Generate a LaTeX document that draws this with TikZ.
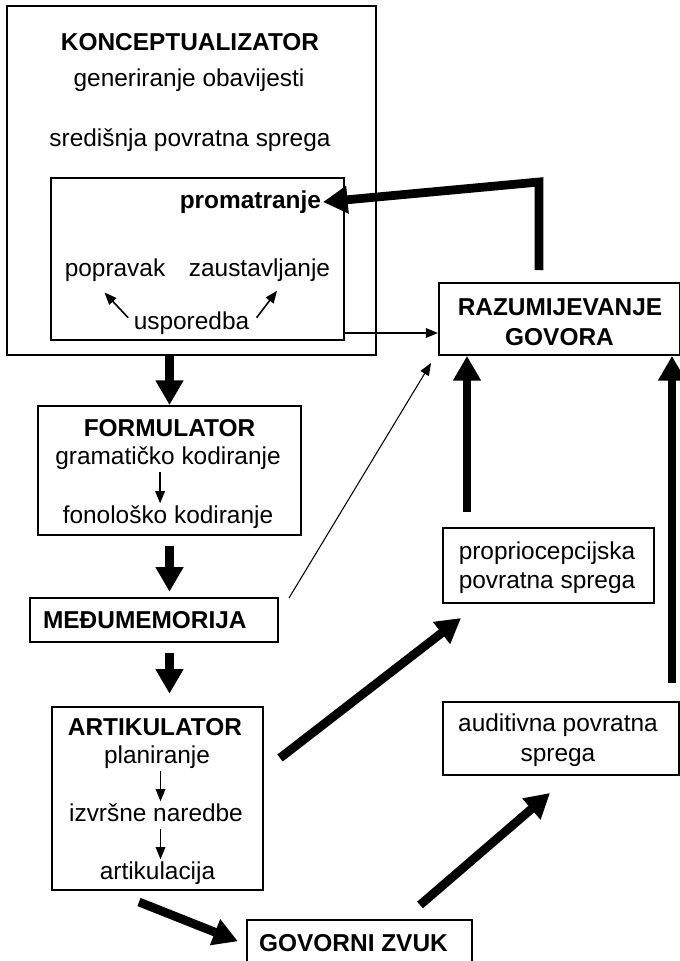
\documentclass[tikz,border=0pt]{standalone}
\usepackage{fontspec}
\setmainfont{Liberation Sans}
\usetikzlibrary{arrows.meta}

\begin{document}
\begin{tikzpicture}[x=0.02cm,y=-0.02cm,
  box/.style={draw,line width=1.1pt,inner sep=0pt},
  txt/.style={inner sep=1pt,text height=10.4pt,text depth=2.8pt,font=\fontsize{13.9}{16}\selectfont},
  hd/.style={txt,font=\fontsize{13.9}{16}\selectfont\bfseries},
  bigarrow/.style={line width=5pt,-{Triangle[length=14pt,width=15pt]}},
  smallarrow/.style={line width=0.9pt,-{Triangle[length=7pt,width=5.5pt]}}]
\useasboundingbox (0,0) rectangle (680,961);

% boxes
\node[box,minimum width=7.38cm,minimum height=6.98cm] (konc) at (191.5,180.5) {};
\node[box,minimum width=5.86cm,minimum height=3.24cm] (prom) at (197.5,259) {};
\node[box,minimum width=4.82cm,minimum height=1.44cm] (razum) at (559.5,319) {};
\node[box,minimum width=5.26cm,minimum height=2.58cm] (form) at (169.5,470.5) {};
\node[box,minimum width=4.96cm,minimum height=0.88cm] (medj) at (154,620) {};
\node[box,minimum width=4.22cm,minimum height=1.5cm] (prop) at (548.5,565.5) {};
\node[box,minimum width=4.22cm,minimum height=3.66cm] (artik) at (157.5,798.5) {};
\node[box,minimum width=4.72cm,minimum height=1.46cm] (audit) at (561,738.5) {};
\node[box,minimum width=4.5cm,minimum height=0.98cm] (govor) at (359.5,944.5) {};

% texts
\node[hd] (konct) at (190,44) {KONCEPTUALIZATOR};
\node[txt] (gen) at (189,80) {generiranje obavijesti};
\node[txt] (sred) at (190,140) {središnja povratna sprega};
\node[hd,anchor=east] (promt) at (323,202) {promatranje};
\node[txt] (pop) at (115,270) {popravak};
\node[txt] (zaus) at (259.5,270) {zaustavljanje};
\node[txt] (usp) at (191.5,323) {usporedba};
\node[hd] (raz1) at (560,309) {RAZUMIJEVANJE};
\node[hd] (raz2) at (559.5,339) {GOVORA};
\node[hd] (formt) at (169.5,430) {FORMULATOR};
\node[txt] (gram) at (168,458) {gramatičko kodiranje};
\node[txt] (fono) at (168,517) {fonološko kodiranje};
\node[hd,anchor=west] (medjt) at (41,622) {MEĐUMEMORIJA};
\node[txt] (prop1) at (547,553) {propriocepcijska};
\node[txt] (prop2) at (547,582) {povratna sprega};
\node[hd] (artikt) at (155,729) {ARTIKULATOR};
\node[txt] (plan) at (157,757) {planiranje};
\node[txt] (izvr) at (156,815) {izvršne naredbe};
\node[txt] (artc) at (157.5,873) {artikulacija};
\node[txt] (aud1) at (558,725) {auditivna povratna};
\node[txt] (aud2) at (558,755) {sprega};
\node[hd] (govt) at (353.5,945) {GOVORNI ZVUK};

% free ends
\coordinate (fbcorner) at (539,182);
\coordinate (fbstart) at (539,270);
\coordinate (uspout) at (344,333);
\coordinate (medjout) at (289,598);
\coordinate (razin) at (431,363);
\coordinate (propup) at (467,512);
\coordinate (audup) at (672,683);
\coordinate (artout) at (280,758);
\coordinate (propin) at (461,618);
\coordinate (artdown) at (139,902);
\coordinate (govout) at (420,905);
\coordinate (audin) at (550,793);

% thin arrows
\draw[smallarrow] ([xshift=-2pt,yshift=3pt]usp.west) -- ([xshift=-6pt,yshift=-5pt]pop.south);
\draw[smallarrow] ([xshift=3pt,yshift=3pt]usp.east) -- ([xshift=10pt,yshift=-4pt]zaus.south);
\draw[smallarrow] ([xshift=-4.5pt]gram.south) -- ([xshift=-4.5pt]fono.north);
\draw[smallarrow] ([xshift=2pt]plan.south) -- ([xshift=2pt]plan.south |- izvr.north);
\draw[smallarrow] ([xshift=2pt]plan.south |- izvr.south) -- ([xshift=2pt]plan.south |- artc.north);
\draw[smallarrow] (uspout) -- (uspout -| razum.west);
\draw[smallarrow,line width=0.6pt] (medjout) -- (razin);

% thick arrows
\draw[bigarrow] (fbstart) -- (fbcorner) -- (promt.east);
\draw[bigarrow] (konc.south -| form.north) -- (form.north);
\draw[bigarrow,shorten <=5.7pt,shorten >=3pt] (form.south) -- (form.south |- medj.north);
\draw[bigarrow,shorten <=5.7pt,shorten >=7pt] (form.south |- medj.south) -- (form.south |- artik.north);
\draw[bigarrow] (propup) -- (propup |- razum.south);
\draw[bigarrow] (audup) -- (audup |- razum.south);
\draw[bigarrow] (artout) -- (propin);
\draw[bigarrow,shorten >=5pt] (artdown) -- (govor.west);
\draw[bigarrow] (govout) -- (audin);
\end{tikzpicture}
\end{document}
